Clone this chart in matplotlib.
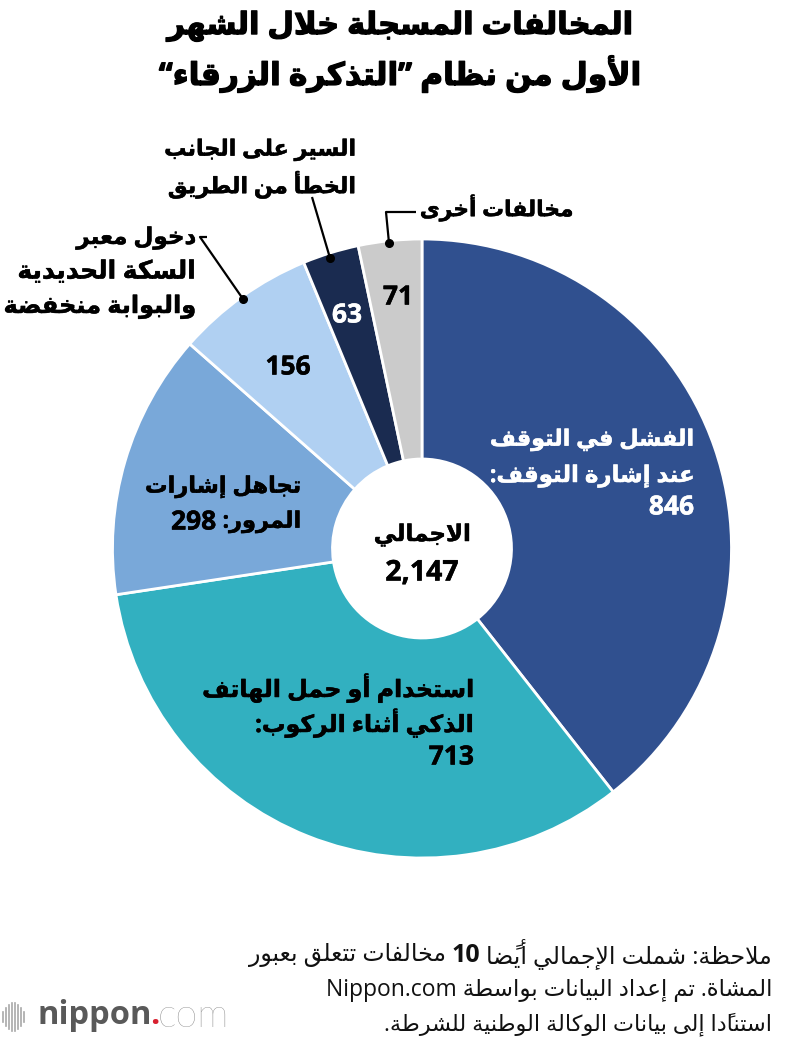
import re
import matplotlib
matplotlib.use("Agg")
import matplotlib.pyplot as plt
import matplotlib.patheffects as pe

# chart values
labels = ["stop sign", "smartphone", "signals", "rail crossing", "wrong side", "other"]
values = [846, 713, 298, 156, 63, 71]
colors = ["#30508f", "#32b0c0", "#79a8d9", "#b0d0f2", "#1a2b50", "#cbcbcb"]

title_lines = ["المخالفات المسجلة خلال الشهر", "الأول من نظام ”التذكرة الزرقاء“"]
note_first = ["ملاحظة: شملت الإجمالي أيضًا", "10", "مخالفات تتعلق بعبور"]
note_lines = ["المشاة. تم إعداد البيانات بواسطة Nippon.com",
              "استنادًا إلى بيانات الوكالة الوطنية للشرطة."]

# Arabic shaping, matplotlib has no shaper so use the presentation forms
LETTERS = "ءآأؤإئابةتثجحخدذرزسشصضطظعغفقكلمنهوىي"
NO_JOIN = "ء"
RIGHT_ONLY = "آأؤإادذرزةوى"
FORMS = {}
code = 0xFE80
for ch in LETTERS:
    n = 1 if ch in NO_JOIN else 2 if ch in RIGHT_ONLY else 4
    FORMS[ch] = [chr(code + i) for i in range(n)]
    code += n
LAM_ALEF = {"آ": 0xFEF5, "أ": 0xFEF7, "إ": 0xFEF9, "ا": 0xFEFB}
MARKS = "\u064b\u064c\u064d\u064e\u064f\u0650\u0651\u0652"


def shape(text):
    # split in clusters of letter + marks
    clusters = []
    for ch in text:
        if ch in MARKS and clusters:
            clusters[-1][1] += ch
        else:
            clusters.append([ch, ""])
    out = []
    i = 0
    prev_joins = False
    while i < len(clusters):
        ch, marks = clusters[i]
        nxt = clusters[i + 1][0] if i + 1 < len(clusters) else ""
        if ch == "ل" and nxt in LAM_ALEF:
            glyph = chr(LAM_ALEF[nxt] + (1 if prev_joins else 0))
            out.append(glyph + marks + clusters[i + 1][1])
            prev_joins = False
            i += 2
            continue
        if ch not in FORMS:
            out.append(ch + marks)
            prev_joins = False
            i += 1
            continue
        forms = FORMS[ch]
        joins_next = len(forms) == 4 and nxt in FORMS
        if len(forms) == 1:
            glyph = forms[0]
        elif len(forms) == 2:
            glyph = forms[1] if prev_joins else forms[0]
        elif prev_joins and joins_next:
            glyph = forms[3]
        elif prev_joins:
            glyph = forms[1]
        elif joins_next:
            glyph = forms[2]
        else:
            glyph = forms[0]
        out.append(glyph + marks)
        prev_joins = joins_next
        i += 1
    line = "".join(reversed(out))
    # latin and digits read left to right again
    return re.sub(r"[A-Za-z0-9][A-Za-z0-9.,]*[A-Za-z0-9]", lambda m: m.group(0)[::-1], line)


fig = plt.figure(figsize=(8, 10.4), dpi=100)
ax = fig.add_axes([0, 0, 1, 1])
H = 1040
FONT = ["Open Sans", "DejaVu Sans"]


def put(x, y, line, ha="right", size=16, color="black", weight="bold", stroke=0.35):
    t = ax.text(x, H - y, shape(line), ha=ha, va="center", fontsize=size, color=color,
                fontweight=weight, family=FONT)
    if stroke:
        t.set_path_effects([pe.withStroke(linewidth=stroke, foreground=color)])
    return t


def put_run(x, y, parts, gap=6):
    # pieces of one line with own size/weight, laid out from the right
    renderer = fig.canvas.get_renderer()
    for line, size, weight in parts:
        t = put(x, y, line, size=size, weight=weight, color="#111111", stroke=0)
        x -= t.get_window_extent(renderer).width + gap


ax.pie(values, startangle=90, counterclock=False, colors=colors, center=(422, H - 548.5), radius=309.5,
       wedgeprops=dict(width=220, edgecolor="white", linewidth=2))
ax.set_xlim(0, 800)
ax.set_ylim(0, H)
ax.set_aspect("equal")
ax.axis("off")

# title
put(400, 26, title_lines[0], ha="center", size=22, stroke=0.9)
put(400, 74, title_lines[1], ha="center", size=22.5, stroke=0.9)

# labels inside the slices
put(694, 440, "الفشل في التوقف", color="white", size=16.1)
put(694, 476, "عند إشارة التوقف:", color="white", size=16.5)
put(694, 507, str(values[0]), color="white", size=19)
put(474, 688, "استخدام أو حمل الهاتف", size=17.1)
put(474, 723, "الذكي أثناء الركوب:", size=17)
put(474, 757, str(values[1]), size=19)
put(301, 487, "تجاهل إشارات", size=16.2)
put(301, 522, "المرور:", size=16.2)
put(216, 522, str(values[2]), size=19)
put(288, 367, str(values[3]), ha="center", size=19)
put(347, 315, str(values[4]), ha="center", color="white", size=19)
put(398, 297, str(values[5]), ha="center", size=19)
put(422, 535, "الاجمالي", ha="center", size=16.5)
put(422, 573, "2,147", ha="center", size=20.5)

# outside labels
put(356, 150, "السير على الجانب", size=16)
put(356, 185, "الخطأ من الطريق", size=16.1)
put(573, 208, "مخالفات أخرى", size=15.7)
put(196, 238, "دخول معبر", size=16.6)
put(196, 272, "السكة الحديدية", size=18)
put(196, 307, "والبوابة منخفضة", size=17.3)

# leader lines
leaders = [([416, 386, 389], [212, 212, 243]),
           ([312, 330], [197, 258]),
           ([207, 200, 243], [237, 237, 299])]
for xs, ys in leaders:
    ax.plot(xs, [H - y for y in ys], color="black", lw=1.6, solid_capstyle="butt")
    ax.plot(xs[-1], H - ys[-1], "o", color="black", ms=5.5)

# note
put_run(772, 955, [(note_first[0], 17, "normal"), (note_first[1], 18, "bold"), (note_first[2], 17, "normal")])
put(772, 990, note_lines[0], size=16.5, weight="normal", color="#111111", stroke=0)
put(772, 1024, note_lines[1], size=16.1, weight="normal", color="#111111", stroke=0)

# logo
bar_x = [3, 6, 9, 12, 15, 18, 21, 24]
bar_h = [10, 18, 24, 28, 28, 24, 18, 10]
for bx, bh in zip(bar_x, bar_h):
    ax.plot([bx, bx], [H - 1017 - bh / 2, H - 1017 + bh / 2], color="#a8a8a8", lw=1.2)
ax.text(37, H - 1016, "nippon", family="Open Sans", fontweight="bold", fontsize=23.5, color="#595959",
        ha="left", va="center")
ax.text(150, H - 1016, ".", family="Open Sans", fontweight="bold", fontsize=23.5, color="#d8202f",
        ha="left", va="center")
ax.text(158, H - 1016, "com", family="Lato", fontweight="light", fontsize=28.5, color="#7d7d7d",
        ha="left", va="center")

fig.savefig("out.png", dpi=100)
